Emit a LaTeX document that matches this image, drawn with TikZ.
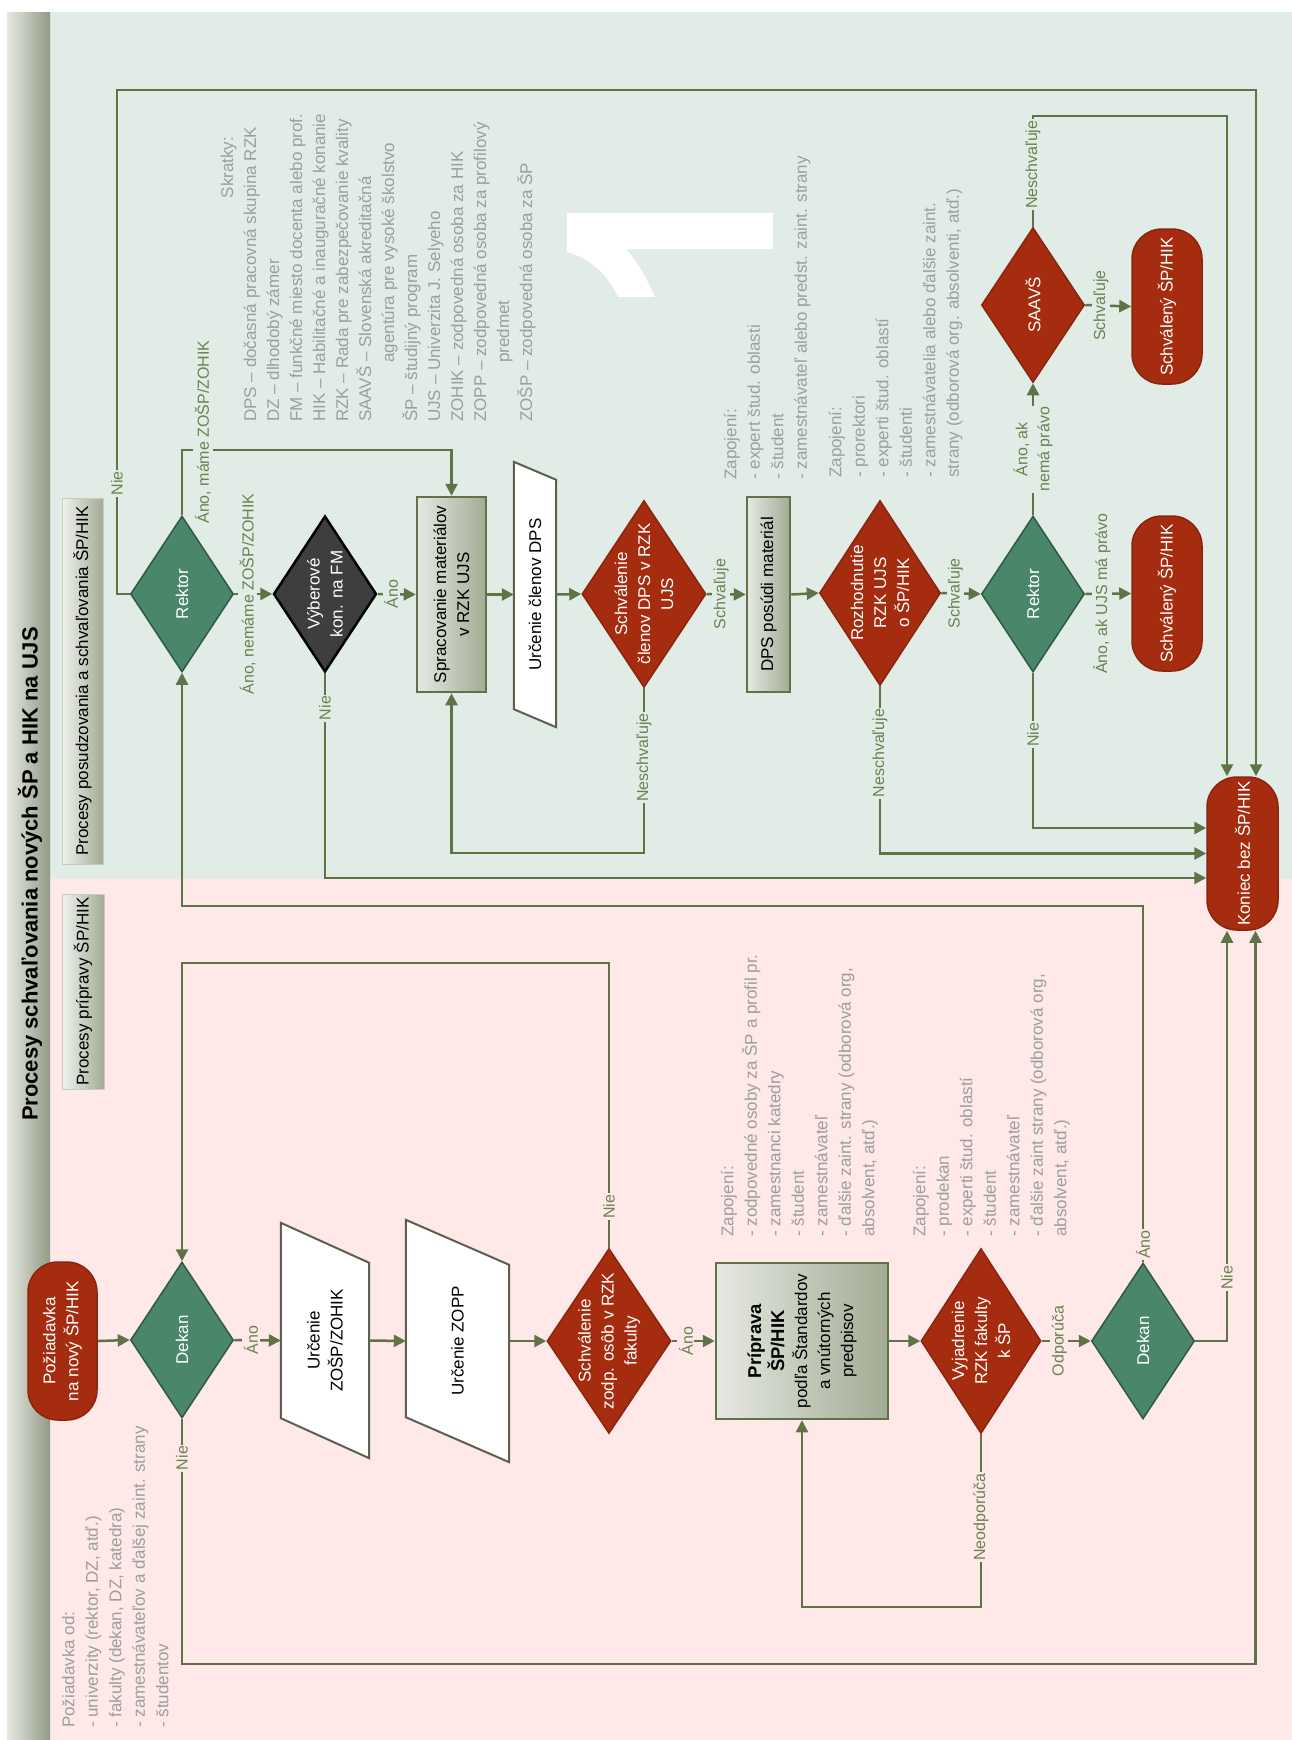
\documentclass[tikz,border=0pt]{standalone}
\usepackage{fontspec}
\setsansfont{Liberation Sans}
\RequirePackage{xcolor}
\definecolor{ujsline}{RGB}{95,116,70}
\definecolor{ujslabel}{RGB}{106,130,80}
\definecolor{ujsgreenbg}{RGB}{224,236,229}
\definecolor{ujspinkbg}{RGB}{254,232,232}
\definecolor{ujsred}{RGB}{166,44,16}
\definecolor{ujsredline}{RGB}{138,36,14}
\definecolor{ujsgreen}{RGB}{74,134,105}
\definecolor{ujsgreenline}{RGB}{46,90,68}
\definecolor{ujsdark}{RGB}{62,62,62}
\definecolor{ujsnote}{RGB}{158,158,158}
\definecolor{ujsboxl}{RGB}{230,233,227}
\definecolor{ujsboxr}{RGB}{162,171,147}
\definecolor{ujsslant}{RGB}{92,96,78}
\tikzset{every picture/.style={/utils/exec={\sffamily}}}
\usetikzlibrary{calc}
\usetikzlibrary{shapes.geometric}
\usetikzlibrary{arrows.meta}

\tikzset{
  flow/.style={draw=ujsline, line width=2.5pt, -{Triangle[length=12pt,width=12pt]}},
  decision/.style={diamond, inner sep=0pt, line width=1.5pt, minimum width=103pt, minimum height=156pt},
  greendec/.style={decision, fill=ujsgreen, draw=ujsgreenline},
  reddec/.style={decision, fill=ujsred, draw=ujsredline, minimum width=124pt, minimum height=187pt},
  terminal/.style={rectangle, rounded corners=30pt, inner sep=0pt, fill=ujsred, draw=ujsredline, line width=1.5pt, minimum width=70pt, minimum height=155pt},
  stepbox/.style={rectangle, inner sep=0pt, draw=ujsline, line width=2.5pt, left color=ujsboxl, right color=ujsboxr},
  lanebox/.style={rectangle, inner sep=0pt, draw=ujsboxr!60, line width=1pt, left color=ujsboxl!60!white, right color=ujsboxr},
  slanted/.style={draw=ujsslant, line width=2pt, fill=white},
  vt/.style={rotate=90, align=center, inner sep=0pt},
  vw/.style={vt, text=white},
  elab/.style={rotate=90, align=center, inner sep=1.5pt, text=ujslabel, fill=#1, font=\fontsize{16pt}{22pt}\selectfont},
  note/.style={rotate=90, align=left, inner sep=0pt, anchor=north west, text=ujsnote, font=\fontsize{17pt}{23.5pt}\selectfont},
}
\newcommand{\manualinput}[3]{%
  \draw[slanted] (#1.north west) -- ($(#1.north east)+(0,#2)$) -- (#1.south east) -- ($(#1.south west)+(0,-#2)$) -- cycle;
  \node[vt] (#1txt) at (#1) {#3};}
\newcommand{\boldline}[1]{{\fontsize{18.5pt}{23pt}\selectfont\bfseries #1}}

\begin{document}
\begin{tikzpicture}[x=1pt, y=-1pt, every node/.style={font=\fontsize{17pt}{23pt}\selectfont}]
  \useasboundingbox (0,0) rectangle (1292,1740);
  \fill[white] (0,0) rectangle (1292,1740);
  \fill[ujsgreenbg] (50,12) rectangle (1292,879);
  \fill[ujspinkbg] (50,879) rectangle (1292,1740);
  \shade[left color=ujsboxl, right color=ujsboxr!90!black] (7,12) rectangle (50,1740);
  \node[vt, font=\fontsize{22pt}{26pt}\selectfont\bfseries] (title) at (30,874) {Procesy schvaľovania nových ŠP a HIK na UJS};
  \node[lanebox, minimum width=41pt, minimum height=366pt, label={[vt]center:Procesy posudzovania a schvaľovania ŠP/HIK}] (lane1) at (82.5,681) {};
  \node[lanebox, minimum width=42pt, minimum height=195pt, label={[vt]center:Procesy prípravy ŠP/HIK}] (lane2) at (83,991.5) {};
  % big white digit
  \fill[white] (567,213) -- (773,213) -- (773,249) -- (626,249)
    .. controls (636,260) and (645,275) .. (655,297) -- (618,297)
    .. controls (608,275) and (590,258) .. (567,252) -- cycle;

  % notes
  \node[note, font=\fontsize{17pt}{23pt}\selectfont] (skratky) at (220.7,422) {\makebox[285pt][r]{Skratky:}\\
    DPS – dočasná pracovná skupina RZK\\
    DZ – dlhodobý zámer\\
    FM – funkčné miesto docenta alebo prof.\\
    HIK – Habilitačné a inauguračné konanie\\
    RZK – Rada pre zabezpečovanie kvality\\
    SAAVŠ – Slovenská akreditačná\\
    \hspace*{59pt}agentúra pre vysoké školstvo\\
    ŠP – študijný program\\
    UJS – Univerzita J. Selyeho\\
    ZOHIK – zodpovedná osoba za HIK\\
    ZOPP – zodpovedná osoba za profilový\\
    \hspace*{59pt}predmet\\
    ZOŠP – zodpovedná osoba za ŠP};
  \node[note] (zapdps) at (723.7,480) {Zapojení:\\- expert štud. oblasti\\- študent\\- zamestnávateľ alebo predst. zaint. strany};
  \node[note] (zaprzk) at (828.7,478) {Zapojení:\\- prorektori\\- experti štud. oblastí\\- študenti\\- zamestnávatelia alebo ďalšie zaint.\\strany (odborová org. absolventi, atď.)};
  \node[note] (zapprip) at (720.7,1237) {Zapojení:\\- zodpovedné osoby za ŠP a profil pr.\\- zamestnanci katedry\\- študent\\- zamestnávateľ\\- ďalšie zaint. strany (odborová org,\\absolvent, atď.)};
  \node[note] (zapvyj) at (912.7,1237) {Zapojení:\\- prodekan\\- experti štud. oblastí\\- študent\\- zamestnávateľ\\- ďalšie zaint strany (odborová org,\\absolvent, atď.)};
  \node[note] (odkoho) at (61.7,1728) {Požiadavka od:\\- univerzity (rektor, DZ, atď.)\\- fakulty (dekan, DZ, katedra)\\- zamestnávateľov a ďalšej zaint. strany\\- študentov};

  % posudzovanie a schvalovanie
  \node[greendec, label={[vw]center:Rektor}] (rek1) at (182,594) {};
  \node[decision, fill=ujsdark, draw=black, line width=2.5pt, label={[vw]center:{Výberové\\kon. na FM}}] (vyb) at (325,594) {};
  \node[stepbox, minimum width=69pt, minimum height=195pt, label={[vt]center:{Spracovanie materiálov\\v RZK UJS}}] (sprac) at (451.5,594.5) {};
  \node[inner sep=0pt, minimum width=42pt, minimum height=265pt] (udps) at (535,594.5) {};
  \manualinput{udps}{18}{Určenie členov DPS}
  \node[reddec, label={[vw]center:{Schválenie\\členov DPS v RZK\\UJS}}] (sdps) at (644,594) {};
  \node[stepbox, minimum width=43pt, minimum height=195pt, label={[vt]center:DPS posúdi materiál}] (dpsm) at (768.5,594.5) {};
  \node[reddec, minimum width=121pt, minimum height=185pt, label={[vw]center:{Rozhodnutie\\RZK UJS\\o ŠP/HIK}}] (rozh) at (880,593) {};
  \node[greendec, label={[vw]center:Rektor}] (rek2) at (1033,594) {};
  \node[reddec, minimum width=103pt, minimum height=155pt, label={[vw]center:SAAVŠ}] (saavs) at (1033,305) {};
  \node[terminal, label={[vw]center:Schválený ŠP/HIK}] (ok1) at (1167,306.5) {};
  \node[terminal, label={[vw]center:Schválený ŠP/HIK}] (ok2) at (1167,593.5) {};
  \node[terminal, minimum width=71pt, minimum height=153pt, label={[vw]center:Koniec bez ŠP/HIK}] (kon) at (1242.5,853.5) {};

  % priprava
  \node[terminal, minimum width=69pt, minimum height=158pt, label={[vw]center:{Požiadavka\\na nový ŠP/HIK}}] (poz) at (62.5,1341) {};
  \node[greendec, label={[vw]center:Dekan}] (dek1) at (182,1340) {};
  \node[inner sep=0pt, minimum width=88pt, minimum height=235pt] (uzosp) at (325,1340.5) {};
  \manualinput{uzosp}{40}{Určenie\\ZOŠP/ZOHIK}
  \node[inner sep=0pt, minimum width=103pt, minimum height=242pt] (uzopp) at (457.5,1341) {};
  \manualinput{uzopp}{45}{Určenie ZOPP}
  \node[reddec, minimum height=185pt, label={[vw]center:{Schválenie\\zodp. osôb v RZK\\fakulty}}] (szodp) at (609,1341) {};
  \node[stepbox, minimum width=172pt, minimum height=156pt, label={[vt]center:{\boldline{Príprava}\\\boldline{ŠP/HIK}\\podľa Štandardov\\a vnútorných\\predpisov}}] (prip) at (802,1341) {};
  \node[reddec, minimum width=120pt, minimum height=185pt, label={[vw]center:{Vyjadrenie\\RZK fakulty\\k ŠP}}] (vyj) at (981,1341) {};
  \node[greendec, label={[vw]center:Dekan}] (dek2) at (1143,1341) {};

  \coordinate (topnie) at (117,90);
  \coordinate (maame) at (451.5,450);
  \coordinate (spback) at (451.5,853);
  \coordinate (saavsnie) at (1227,116);
  \coordinate (zpnie) at (182,963);
  \coordinate (vyjnie) at (802,1607);
  \coordinate (dekano) at (182,906);
  \coordinate (deknie) at (1255.5,1664);

  \draw[flow] (rek1.west) -| node[elab=ujsgreenbg, pos=0.61] {Nie} (topnie) -| ($(kon.north)+(13.5,0)$);
  \draw[flow] (rek1.north) |- (maame) -- (sprac.north);
  \node[elab=ujsgreenbg] (lmaame) at (203,432) {Áno, máme ZOŠP/ZOHIK};
  \draw[flow] (rek1.east) -- node[elab=ujsgreenbg, pos=0.35] {Áno, nemáme ZOŠP/ZOHIK} (vyb.west);
  \draw[flow] (vyb.east) -- node[elab=ujsgreenbg, pos=0.35] {Áno} (sprac.west);
  \draw[flow] (vyb.south) |- node[elab=ujsgreenbg, pos=0.085] {Nie} ($(kon.west)+(0,24.5)$);
  \draw[flow] (sprac.east) -- (udps.west);
  \draw[flow] (udps.east) -- (sdps.west);
  \draw[flow] (sdps.east) -- node[elab=ujsgreenbg, pos=0.37] {Schvaľuje} (dpsm.west);
  \draw[flow] (sdps.south) |- node[elab=ujsgreenbg, pos=0.21] {Neschvaľuje} (spback) -- (sprac.south);
  \draw[flow] (dpsm.east) -- (rozh.west);
  \draw[flow] (rozh.east) -- node[elab=ujsgreenbg, pos=0.36] {Schvaľuje} (rek2.west);
  \draw[flow] (rozh.south) |- node[elab=ujsgreenbg, pos=0.2] {Neschvaľuje} (kon.west);
  \draw[flow] (rek2.south) |- node[elab=ujsgreenbg, pos=0.2] {Nie} ($(kon.west)+(0,-25.5)$);
  \draw[flow] (rek2.north) -- node[elab=ujsgreenbg, pos=0.5] {Áno, ak\\nemá právo} (saavs.south);
  \draw[flow] (rek2.east) -- node[elab=ujsgreenbg, pos=0.36] {Áno, ak UJS má právo} (ok2.west);
  \draw[flow] (saavs.east) -- node[elab=ujsgreenbg, pos=0.34] {Schvaľuje} (ok1.west);
  \draw[flow] (saavs.north) |- node[elab=ujsgreenbg, pos=0.28] {Neschvaľuje} (saavsnie) -- ($(kon.north)+(-15.5,0)$);

  \draw[flow] (poz.east) -- (dek1.west);
  \draw[flow] (dek1.east) -- node[elab=ujspinkbg, pos=0.36] {Áno} (uzosp.west);
  \draw[flow] (uzosp.east) -- (uzopp.west);
  \draw[flow] (uzopp.east) -- (szodp.west);
  \draw[flow] (szodp.east) -- node[elab=ujspinkbg, pos=0.33] {Áno} (prip.west);
  \draw[flow] (szodp.north) |- node[elab=ujspinkbg, pos=0.072] {Nie} (zpnie) -- (dek1.north);
  \draw[flow] (prip.east) -- (vyj.west);
  \draw[flow] (vyj.east) -- node[elab=ujspinkbg, pos=0.36] {Odporúča} (dek2.west);
  \draw[flow] (vyj.south) |- node[elab=ujspinkbg, pos=0.24] {Neodporúča} (vyjnie) -- (prip.south);
  \draw[flow] (dek2.north) |- node[elab=ujspinkbg, pos=0.025] {Áno} (dekano) -- (rek1.south);
  \draw[flow] (dek2.east) -| node[elab=ujspinkbg, pos=0.577] {Nie} ($(kon.south)+(-15.5,0)$);
  \draw[flow] (dek1.south) |- node[elab=ujspinkbg, pos=0.08] {Nie} (deknie) -- ($(kon.south)+(13,0)$);
\end{tikzpicture}
\end{document}
